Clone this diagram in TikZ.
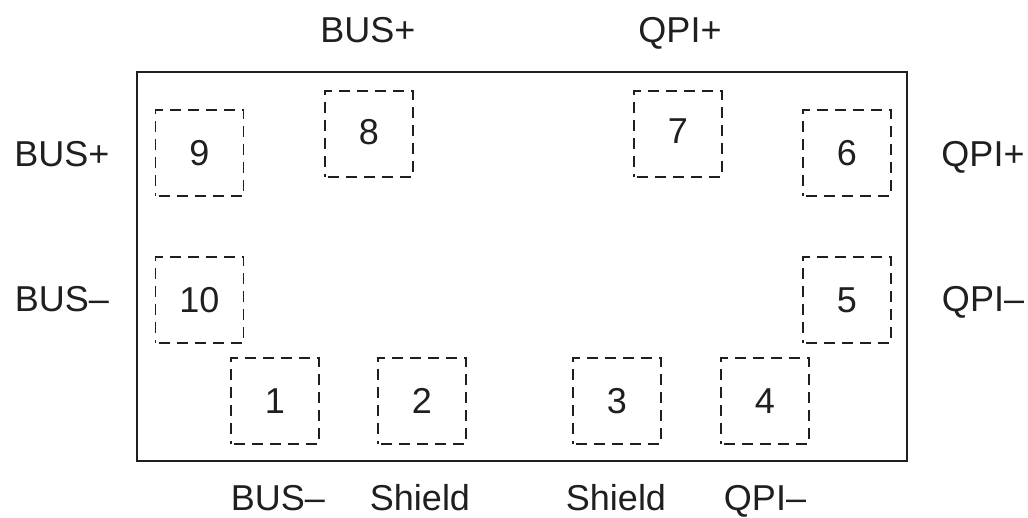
\documentclass[tikz,border=0pt]{standalone}
\usepackage{fontspec}
\setmainfont{Liberation Sans}
\begin{document}
\begin{tikzpicture}[x=1pt,y=-1pt,
  every node/.style={font=\fontsize{36}{40}\selectfont, text=black!88},
  pad/.style={draw=black!88, line width=1.8pt, dash pattern=on 11pt off 7pt, dash phase=-3pt,
    minimum width=88pt, minimum height=86pt, inner sep=0pt},
  pinlabel/.style={anchor=base, inner sep=0pt}]
\useasboundingbox (0,0) rectangle (1028,518);
\node[draw=black!88, line width=2pt, minimum width=770pt, minimum height=389pt, inner sep=0pt] (body) at (522,266.5) {};
\node[pad] (p9) at (199.5,153) {9};
\node[pad] (p8) at (369,134) {\raisebox{5pt}{8}};
\node[pad] (p7) at (678,134) {\raisebox{5pt}{7}};
\node[pad] (p6) at (847,153) {6};
\node[pad] (p10) at (199.5,300) {10};
\node[pad] (p5) at (847,300) {5};
\node[pad] (p1) at (275,401) {1};
\node[pad] (p2) at (422,401) {2};
\node[pad] (p3) at (617,401) {3};
\node[pad] (p4) at (765,401) {4};
\node[pinlabel] (l8) at (368,43) {BUS+};
\node[pinlabel] (l7) at (680,43) {QPI+};
\node[pinlabel] (l9) at (62,167) {BUS+};
\node[pinlabel] (l10) at (62,312) {BUS–};
\node[pinlabel] (l6) at (983,167) {QPI+};
\node[pinlabel] (l5) at (983,312) {QPI–};
\node[pinlabel] (l1) at (278,510) {BUS–};
\node[pinlabel] (l2) at (420,510) {Shield};
\node[pinlabel] (l3) at (616,510) {Shield};
\node[pinlabel] (l4) at (765,510) {QPI–};
\end{tikzpicture}
\end{document}
